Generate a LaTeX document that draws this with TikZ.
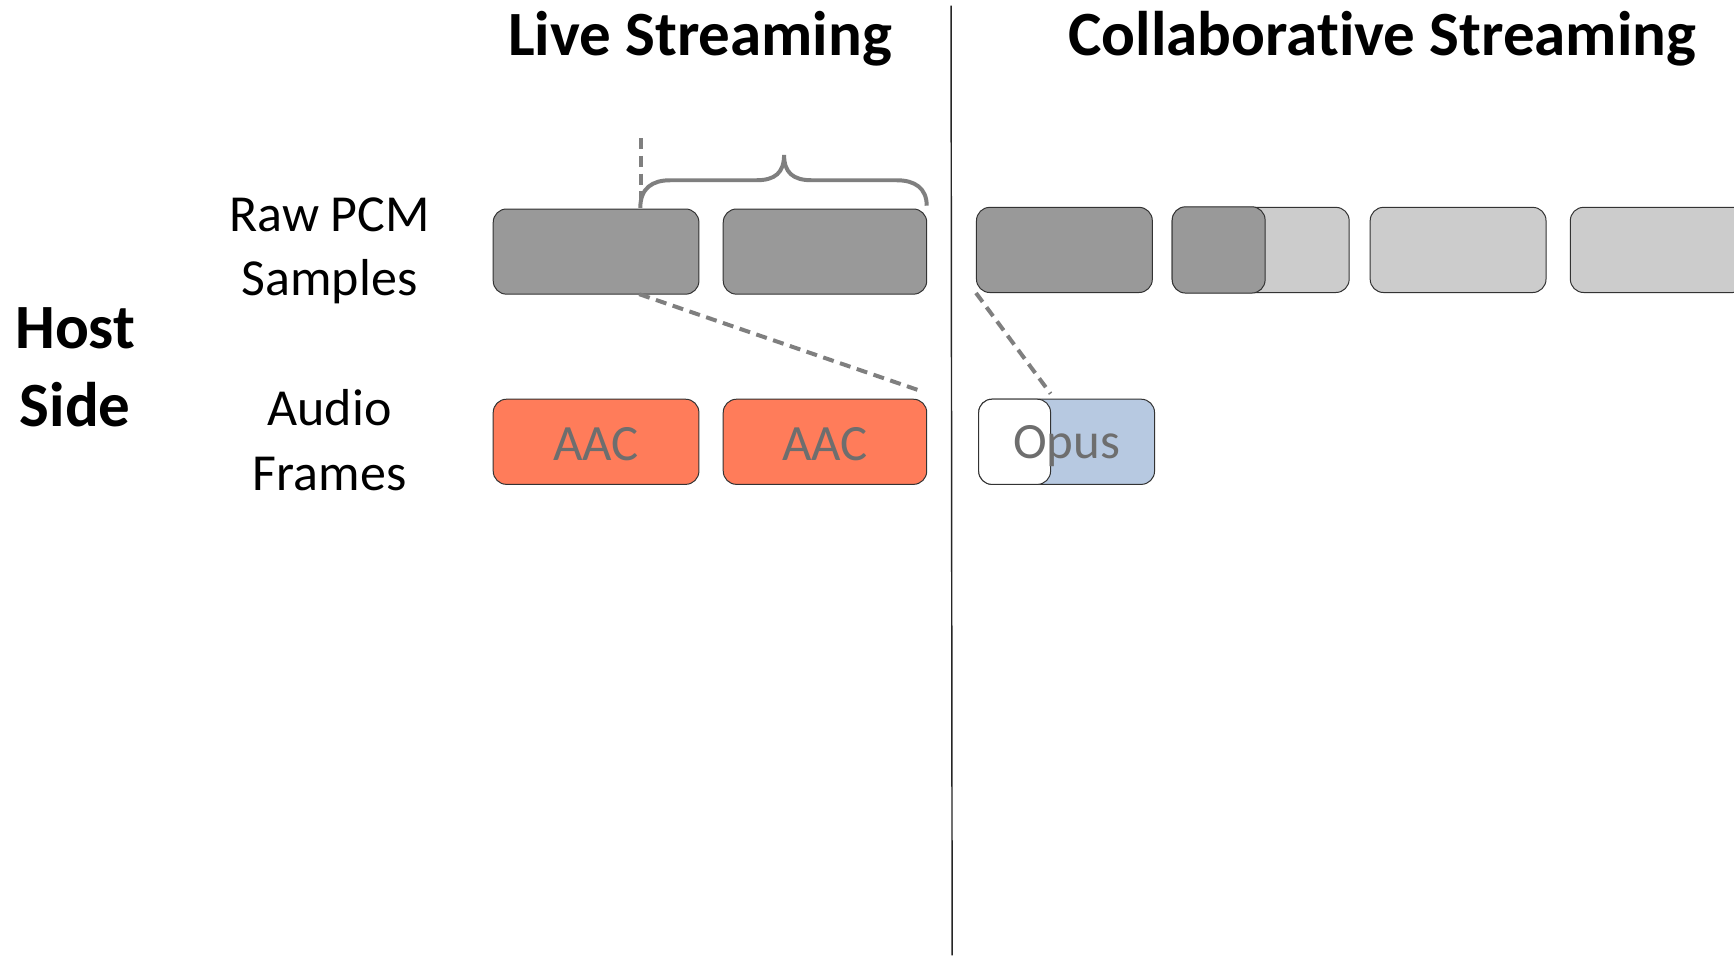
\documentclass[tikz,border=0pt]{standalone}
\usepackage{fontspec}
\setmainfont[Ligatures=NoCommon,RawFeature={-liga;-clig}]{Carlito}
\usetikzlibrary{calc}
\definecolor{pcmdark}{HTML}{999999}
\definecolor{pcmlight}{HTML}{CCCCCC}
\definecolor{aaccol}{HTML}{FF7C5A}
\definecolor{opuscol}{HTML}{B7C9E1}
\definecolor{labgray}{HTML}{6E6E6E}
\definecolor{guide}{HTML}{7F7F7F}
\tikzset{
  blk/.style={draw=black!80, line width=0.9pt, rounded corners=12pt,
              minimum height=77pt, inner sep=0pt},
  wide/.style={blk, minimum width=186pt},
  narrow/.style={blk, minimum width=159pt},
  boxtext/.style={font=\fontsize{46}{55}\selectfont, text=labgray, inner sep=0pt},
  rowlabel/.style={font=\fontsize{47}{58}\selectfont, align=center, inner sep=0pt},
  heading/.style={font=\fontsize{57}{70}\selectfont\bfseries, align=center, inner sep=0pt},
  guideline/.style={draw=guide, line width=3.6pt, dash pattern=on 10pt off 6pt},
  bracepath/.style={draw=guide, line width=3.6pt}
}
\begin{document}
\begin{tikzpicture}[x=1pt,y=-1pt]
  \useasboundingbox[fill=white] (0,0) rectangle (1568,864);

  % headings and row labels
  \node[heading] (live) at (633,35) {Live Streaming};
  \node[heading] (collab) at (1250,35) {Collaborative Streaming};
  \node[heading] (host) at (68,332) {Host\\Side};
  \node[rowlabel] (pcmlab) at (298,227) {Raw PCM\\Samples};
  \node[rowlabel] (framelab) at (298,398) {Audio\\Frames};

  % divider between the two schemes
  \coordinate (divtop) at (860,5);
  \coordinate (divbot) at (861,864);
  \draw[black!85, line width=1.3pt] (divtop) -- (divbot);

  % live streaming: PCM blocks and AAC frames
  \node[wide, fill=pcmdark] (pcm1) at (539,227.5) {};
  \node[wide, fill=pcmdark, minimum width=184pt] (pcm2) at (746,227.5) {};
  \node[wide, fill=aaccol] (aac1) at (539,399.5) {};
  \node[wide, fill=aaccol, minimum width=184pt] (aac2) at (746,399.5) {};
  \node[boxtext] at ($(aac1)+(0,2)$) {AAC};
  \node[boxtext] at ($(aac2)+(0,2)$) {AAC};

  % collaborative streaming: PCM blocks
  \node[narrow, fill=pcmdark] (c1) at (962.5,226) {};
  \node[narrow, fill=pcmlight, minimum width=160pt] (c2) at (1140,226) {};
  \node[blk, fill=pcmdark, minimum width=84pt, minimum height=78pt] (c2a) at (1102,226) {};
  \node[narrow, fill=pcmlight] (c3) at (1318.5,226) {};
  \node[narrow, fill=pcmlight] (c4) at (1499.5,226) {};

  % Opus frame with its leading part
  \node[narrow, fill=opuscol] (opus) at (964.5,399.5) {};
  \node[blk, fill=white, minimum width=65pt] (opusa) at (917.5,399.5) {};
  \node[boxtext] at ($(opus)+(0,4)$) {Opus};

  % frame boundary guides
  \coordinate (cutA) at (578,266);
  \coordinate (cutB) at (834,354);
  \draw[guideline] (cutA) -- (cutB);
  \coordinate (markT) at (580,125);
  \coordinate (markB) at (580,188);
  \draw[guideline] (markT) -- (markB);
  \coordinate (opusT) at (950,356);
  \draw[guideline] (c1.south west) -- (opusT);

  % brace spanning one frame of samples
  \coordinate (brL) at (579,188);
  \coordinate (brR) at (838,186);
  \draw[bracepath] (brL) .. controls (579,170) and (590,163) .. (606,163)
     -- (684,163) .. controls (701,163) and (709,156) .. (709,140)
     .. controls (709,156) and (717,163) .. (734,163)
     -- (811,163) .. controls (827,163) and (838,170) .. (brR);
\end{tikzpicture}
\end{document}
